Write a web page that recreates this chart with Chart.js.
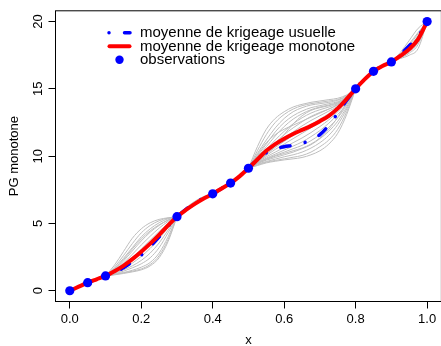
<!DOCTYPE html>
<html>
<head>
<meta charset="utf-8">
<script src="https://cdn.jsdelivr.net/npm/chart.js@4"></script>
<style>
  html, body { margin: 0; padding: 0; background: #fff; overflow: hidden; }
  #wrap { position: relative; width: 446px; height: 346px; }
</style>
</head>
<body>
<div id="wrap"><canvas id="pgChart"></canvas></div>
<script>
// Observations
const obsX = [0, 0.05, 0.1, 0.3, 0.4, 0.45, 0.5, 0.8, 0.85, 0.9, 1.0];
const obsY = [0, 0.6, 1.1, 5.5, 7.2, 8.0, 9.1, 15.0, 16.3, 17.0, 20.0];

// Grille commune pour les deux moyennes
const xGrid = [0, 0.025, 0.05, 0.075, 0.1, 0.125, 0.15, 0.175, 0.2, 0.225,
  0.25, 0.275, 0.3, 0.325, 0.35, 0.375, 0.4, 0.425, 0.45, 0.475,
  0.5, 0.525, 0.55, 0.575, 0.6, 0.625, 0.65, 0.675, 0.7, 0.725,
  0.75, 0.775, 0.8, 0.825, 0.85, 0.875, 0.9, 0.925, 0.95, 0.975, 1.0];

// moyenne de krigeage monotone
const meanMono = [0, 0.3, 0.6, 0.85, 1.1, 1.45, 1.85, 2.35, 2.9, 3.5,
  4.15, 4.85, 5.5, 6.0, 6.45, 6.85, 7.2, 7.6, 8.0, 8.5,
  9.1, 9.75, 10.4, 10.9, 11.3, 11.65, 11.95, 12.25, 12.6, 13.0,
  13.55, 14.25, 15.0, 15.7, 16.3, 16.7, 17.0, 17.45, 17.95, 18.7, 20.0];

// moyenne de krigeage usuelle
const meanKrig = [0, 0.3, 0.6, 0.85, 1.1, 1.35, 1.7, 2.15, 2.65, 3.3,
  4.0, 4.8, 5.5, 6.05, 6.5, 6.9, 7.2, 7.6, 8.0, 8.5,
  9.1, 9.75, 10.25, 10.55, 10.7, 10.8, 10.95, 11.2, 11.6, 12.3,
  13.2, 14.15, 15.0, 15.75, 16.3, 16.7, 17.0, 17.55, 18.2, 18.9, 20.0];

// Trajectoires simulées, entre les observations (là où elles s'écartent)
const simX1 = [0.1, 0.125, 0.15, 0.175, 0.2, 0.225, 0.25, 0.275, 0.3];
const sim1 = [
  [1.1, 1.9, 2.9, 3.9, 4.6, 5.05, 5.3, 5.42, 5.5],
  [1.1, 1.75, 2.6, 3.5, 4.3, 4.85, 5.2, 5.4, 5.5],
  [1.1, 1.65, 2.4, 3.2, 4.0, 4.6, 5.05, 5.35, 5.5],
  [1.1, 1.55, 2.2, 2.95, 3.7, 4.35, 4.85, 5.25, 5.5],
  [1.1, 1.5, 2.05, 2.7, 3.4, 4.05, 4.65, 5.15, 5.5],
  [1.1, 1.45, 1.9, 2.45, 3.1, 3.75, 4.4, 5.0, 5.5],
  [1.1, 1.4, 1.8, 2.25, 2.8, 3.45, 4.15, 4.85, 5.5],
  [1.1, 1.35, 1.65, 2.05, 2.55, 3.15, 3.85, 4.7, 5.5],
  [1.1, 1.3, 1.55, 1.85, 2.25, 2.8, 3.55, 4.5, 5.5],
  [1.1, 1.25, 1.45, 1.7, 2.0, 2.45, 3.2, 4.3, 5.5],
  [1.1, 1.22, 1.35, 1.52, 1.75, 2.1, 2.8, 4.0, 5.5],
  [1.1, 1.18, 1.28, 1.4, 1.55, 1.85, 2.45, 3.65, 5.5],
  [1.1, 1.2, 1.32, 1.45, 1.62, 1.95, 2.6, 3.8, 5.5],
  [1.1, 1.6, 2.3, 3.1, 3.85, 4.45, 4.9, 5.25, 5.5],
];

const simX2 = [0.3, 0.325, 0.35, 0.375, 0.4];
const sim2 = [
  [5.5, 6.15, 6.65, 7.0, 7.2],
  [5.5, 6.1, 6.6, 6.95, 7.2],
  [5.5, 6.05, 6.5, 6.9, 7.2],
  [5.5, 5.9, 6.35, 6.8, 7.2],
];

const simX3 = [0.5, 0.525, 0.55, 0.575, 0.6, 0.625, 0.65, 0.675, 0.7, 0.725, 0.75, 0.775, 0.8];
const sim3 = [
  [9.1, 10.7, 12.0, 12.8, 13.3, 13.65, 13.85, 14.0, 14.1, 14.2, 14.3, 14.55, 15.0],
  [9.1, 10.4, 11.6, 12.5, 13.1, 13.5, 13.75, 13.9, 14.0, 14.1, 14.2, 14.5, 15.0],
  [9.1, 10.2, 11.2, 12.1, 12.8, 13.3, 13.6, 13.8, 13.9, 14.0, 14.15, 14.45, 15.0],
  [9.1, 10.0, 10.9, 11.8, 12.5, 13.0, 13.35, 13.6, 13.75, 13.9, 14.05, 14.4, 15.0],
  [9.1, 9.9, 10.7, 11.5, 12.2, 12.75, 13.15, 13.45, 13.65, 13.8, 14.0, 14.35, 15.0],
  [9.1, 9.8, 10.5, 11.2, 11.85, 12.4, 12.85, 13.2, 13.45, 13.65, 13.9, 14.3, 15.0],
  [9.1, 9.75, 10.4, 11.0, 11.6, 12.1, 12.55, 12.95, 13.25, 13.5, 13.8, 14.25, 15.0],
  [9.1, 9.7, 10.3, 10.85, 11.35, 11.8, 12.25, 12.65, 13.0, 13.35, 13.7, 14.2, 15.0],
  [9.1, 9.65, 10.15, 10.65, 11.1, 11.55, 11.95, 12.35, 12.75, 13.15, 13.6, 14.15, 15.0],
  [9.1, 9.6, 10.05, 10.5, 10.9, 11.3, 11.7, 12.1, 12.5, 12.95, 13.45, 14.1, 15.0],
  [9.1, 9.55, 9.95, 10.3, 10.65, 11.0, 11.35, 11.75, 12.2, 12.7, 13.3, 14.0, 15.0],
  [9.1, 9.5, 9.85, 10.15, 10.45, 10.75, 11.05, 11.45, 11.9, 12.45, 13.1, 13.9, 15.0],
  [9.1, 9.5, 9.8, 10.05, 10.3, 10.55, 10.8, 11.15, 11.6, 12.15, 12.85, 13.8, 15.0],
  [9.1, 9.45, 9.7, 9.9, 10.1, 10.3, 10.55, 10.85, 11.3, 11.85, 12.6, 13.65, 15.0],
  [9.1, 9.4, 9.6, 9.78, 9.95, 10.1, 10.3, 10.6, 11.0, 11.55, 12.35, 13.5, 15.0],
  [9.1, 9.35, 9.55, 9.68, 9.8, 9.92, 10.05, 10.3, 10.7, 11.2, 12.0, 13.3, 15.0],
  [9.1, 9.3, 9.5, 9.62, 9.72, 9.8, 9.9, 10.1, 10.4, 10.9, 11.7, 13.1, 15.0],
  [9.1, 9.45, 9.75, 10.0, 10.2, 10.4, 10.6, 10.9, 11.35, 12.0, 12.9, 13.95, 15.0],
  [9.1, 9.6, 10.1, 10.8, 11.6, 12.4, 13.0, 13.4, 13.6, 13.75, 13.95, 14.3, 15.0],
  [9.1, 10.1, 11.0, 11.6, 12.0, 12.3, 12.6, 12.9, 13.2, 13.5, 13.85, 14.3, 15.0],
];

const simX4 = [0.8, 0.825, 0.85];
const sim4 = [
  [15.0, 15.85, 16.3],
  [15.0, 15.62, 16.3],
];

const simX5 = [0.9, 0.925, 0.95, 0.975, 1.0];
const sim5 = [
  [17.0, 17.7, 18.6, 19.5, 20.0],
  [17.0, 17.6, 18.35, 19.2, 20.0],
  [17.0, 17.5, 18.1, 18.95, 20.0],
  [17.0, 17.4, 17.85, 18.6, 20.0],
  [17.0, 17.3, 17.65, 18.3, 20.0],
  [17.0, 17.25, 17.5, 18.0, 20.0],
  [17.0, 17.35, 17.75, 18.45, 20.0],
  [17.0, 17.55, 18.25, 19.1, 20.0],
];

// Axes
const xTicks = [0, 0.2, 0.4, 0.6, 0.8, 1.0];
const xTickLabels = ["0.0", "0.2", "0.4", "0.6", "0.8", "1.0"];
const yTicks = [0, 5, 10, 15, 20];
const yTickLabels = ["0", "5", "10", "15", "20"];

const FONT = "'Liberation Sans', Arial, Helvetica, sans-serif";
const BLUE = "#0000ff";
const RED = "#ff0000";
const GRAY = "#bebebe";
const DOTDASH = [0.01, 15.5, 9.5, 15.5];

const toPts = (xs, ys) => xs.map((x, i) => ({ x: x, y: ys[i] }));

const simDatasets = [];
[[simX1, sim1], [simX2, sim2], [simX3, sim3], [simX4, sim4], [simX5, sim5]].forEach(([xs, paths]) => {
  paths.forEach((ys) => {
    simDatasets.push({
      label: "",
      data: toPts(xs, ys),
      borderColor: GRAY,
      borderWidth: 1,
      pointRadius: 0,
      cubicInterpolationMode: "monotone",
      order: 4,
    });
  });
});

// cadre du graphique + légende façon R
const boxAndLegend = {
  id: "boxAndLegend",
  afterDraw(chart) {
    const { ctx, chartArea: a } = chart;
    ctx.save();
    ctx.strokeStyle = "#000";
    ctx.lineWidth = 1;
    ctx.setLineDash([]);
    ctx.strokeRect(a.left, a.top, a.right - a.left, a.bottom - a.top);

    const ds = chart.data.datasets;
    const rows = [32.7, 46.2, 59.7];
    const textX = 140;

    // ligne bleue pointillée
    ctx.strokeStyle = BLUE;
    ctx.lineWidth = 3.5;
    ctx.lineCap = "round";
    ctx.setLineDash(DOTDASH);
    ctx.beginPath();
    ctx.moveTo(109, rows[0]);
    ctx.lineTo(130, rows[0]);
    ctx.stroke();

    // ligne rouge
    ctx.setLineDash([]);
    ctx.strokeStyle = RED;
    ctx.lineWidth = 4;
    ctx.beginPath();
    ctx.moveTo(109.5, rows[1]);
    ctx.lineTo(129.5, rows[1]);
    ctx.stroke();

    // point
    ctx.fillStyle = BLUE;
    ctx.beginPath();
    ctx.arc(119.5, rows[2], 4.2, 0, Math.PI * 2);
    ctx.fill();

    ctx.fillStyle = "#000";
    ctx.font = "15px " + FONT;
    ctx.textBaseline = "alphabetic";
    ctx.textAlign = "left";
    ctx.fillText(ds[2].label, textX, rows[0] + 4.3);
    ctx.fillText(ds[1].label, textX, rows[1] + 4.3);
    ctx.fillText(ds[0].label, textX, rows[2] + 4.3);
    ctx.restore();
  },
};

new Chart(document.getElementById("pgChart"), {
  type: "line",

  data: {
    datasets: [
      {
        label: "observations",
        data: toPts(obsX, obsY),
        showLine: false,
        pointRadius: 4.6,
        pointBackgroundColor: BLUE,
        pointBorderWidth: 0,
        order: 1,
      },
      {
        label: "moyenne de krigeage monotone",
        data: toPts(xGrid, meanMono),
        borderColor: RED,
        borderWidth: 4,
        borderCapStyle: "round",
        borderJoinStyle: "round",
        pointRadius: 0,
        cubicInterpolationMode: "monotone",
        order: 2,
      },
      {
        label: "moyenne de krigeage usuelle",
        data: toPts(xGrid, meanKrig),
        borderColor: BLUE,
        borderWidth: 3.5,
        borderDash: DOTDASH,
        borderCapStyle: "round",
        pointRadius: 0,
        cubicInterpolationMode: "monotone",
        order: 3,
      },
      ...simDatasets,
    ],
  },

  options: {
    responsive: true,
    maintainAspectRatio: false,
    animation: false,

    layout: {
      padding: { left: 0, top: 7.5, right: 3.1, bottom: 0 },
    },

    plugins: {
      legend: { display: false },
      tooltip: { enabled: false },
    },

    scales: {
      x: {
        type: "linear",
        min: -0.04,
        max: 1.04,
        afterBuildTicks: (s) => { s.ticks = xTicks.map((v) => ({ value: v })); },
        afterFit: (s) => { s.height = 44.5; },
        grid: { drawOnChartArea: false, drawTicks: true, tickLength: 7, color: "#000" },
        border: { display: false },
        ticks: {
          autoSkip: false,
          maxRotation: 0,
          padding: 3,
          color: "#000",
          font: { family: FONT, size: 13 },
          callback: (v, i) => xTickLabels[i],
        },
        title: {
          display: true,
          text: "x",
          color: "#000",
          font: { family: FONT, size: 13, lineHeight: 0.8 },
          padding: 0,
        },
      },

      y: {
        type: "linear",
        min: -0.8,
        max: 20.8,
        afterBuildTicks: (s) => { s.ticks = yTicks.map((v) => ({ value: v })); },
        afterFit: (s) => { s.width = 55.5; },
        grid: { drawOnChartArea: false, drawTicks: true, tickLength: 7, color: "#000" },
        border: { display: false },
        ticks: {
          autoSkip: false,
          minRotation: 90,
          maxRotation: 90,
          crossAlign: "center",
          padding: 3,
          color: "#000",
          font: { family: FONT, size: 13 },
          callback: (v, i) => yTickLabels[i],
        },
        title: {
          display: true,
          text: "PG monotone",
          color: "#000",
          font: { family: FONT, size: 13 },
          padding: { top: 7, bottom: 0 },
        },
      },
    },
  },

  plugins: [boxAndLegend],
});
</script>
</body>
</html>
